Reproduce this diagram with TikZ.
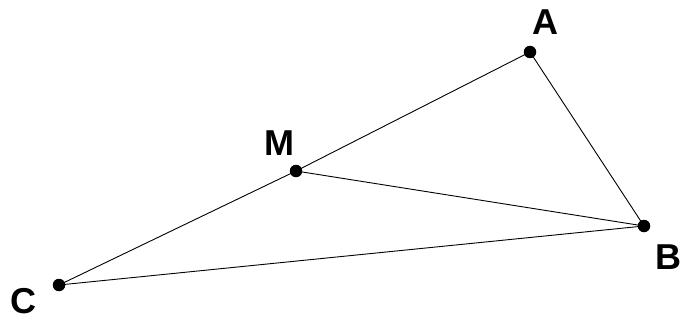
\documentclass[tikz,border=0pt]{standalone}
\usepackage{fontspec}
\setmainfont{Liberation Sans}
\begin{document}
\begin{tikzpicture}[x=1pt,y=1pt,
  pt/.style={circle,fill=black,inner sep=0pt,minimum size=12.5pt},
  lbl/.style={inner sep=0pt,font=\fontsize{36}{40}\selectfont\bfseries},
  edge/.style={line width=0.9pt}]
\useasboundingbox (0,0) rectangle (696,322);
\node[pt] (A) at (530,270) {};
\node[pt] (B) at (644,96) {};
\node[pt] (C) at (59,37) {};
\node[pt] (M) at (296,151) {};
\node[lbl] (lA) at (545,300) {A};
\node[lbl] (lB) at (668,65) {B};
\node[lbl] (lC) at (23.5,20.5) {C};
\node[lbl] (lM) at (279,179) {M};
\draw[edge] (A.center) -- (M.center) -- (C.center) -- (B.center) -- (A.center);
\draw[edge] (M.center) -- (B.center);
\end{tikzpicture}
\end{document}
